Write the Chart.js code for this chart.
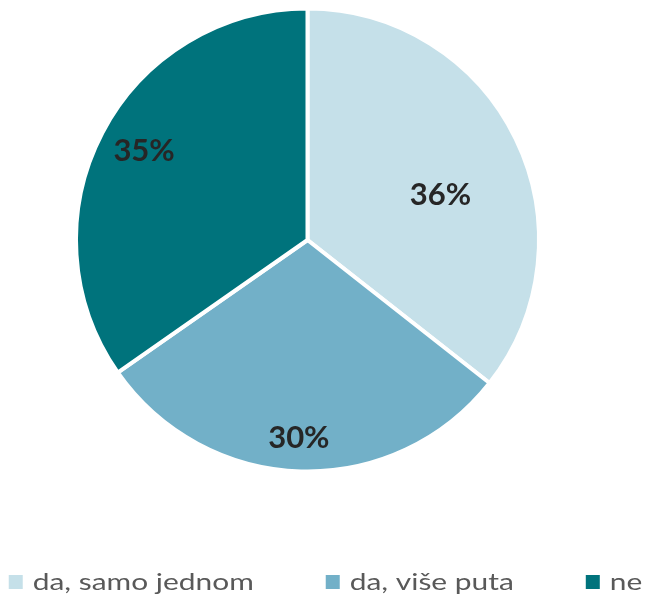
<!DOCTYPE html>
<html>
<head>
<meta charset="utf-8">
<script src="https://cdn.jsdelivr.net/npm/chart.js@4"></script>
<style>
  html, body { margin: 0; padding: 0; background: #ffffff; }
  #wrap { width: 651px; height: 597px; position: relative; }
</style>
</head>
<body>
<div id="wrap"><canvas id="c" width="651" height="597"></canvas></div>
<script>
const categories = ['da, samo jednom', 'da, više puta', 'ne'];
const shares = [35.6, 29.7, 34.7];
const sliceColors = ['#c5e0e9', '#72b0c8', '#00737c'];

// label placement relative to each slice (style, not data)
const labelPlacement = [
  { angleOffsetDeg: 6.8, radiusFactor: 0.613 },
  { angleOffsetDeg: 0.9, radiusFactor: 0.859 },
  { angleOffsetDeg: 1.3, radiusFactor: 0.813 }
];

const sliceLabels = {
  id: 'sliceLabels',
  afterDatasetsDraw(chart) {
    const ctx = chart.ctx;
    const meta = chart.getDatasetMeta(0);
    ctx.save();
    ctx.font = 'bold 31px Lato, "Open Sans", sans-serif';
    ctx.fillStyle = '#262626';
    ctx.textAlign = 'center';
    ctx.textBaseline = 'middle';
    meta.data.forEach((arc, i) => {
      const p = arc.getProps(['x', 'y', 'startAngle', 'endAngle', 'outerRadius'], true);
      const pl = labelPlacement[i];
      const mid = (p.startAngle + p.endAngle) / 2 + pl.angleOffsetDeg * Math.PI / 180;
      const r = (p.outerRadius - 2) * pl.radiusFactor;
      const x = p.x + Math.cos(mid) * r;
      const y = p.y + Math.sin(mid) * r;
      ctx.fillText(Math.round(shares[i]) + '%', x, y + 1);
    });
    ctx.restore();
  }
};

const bottomLegend = {
  id: 'bottomLegend',
  afterDraw(chart) {
    const ctx = chart.ctx;
    const labels = chart.data.labels;
    const colors = chart.data.datasets[0].backgroundColor;
    const box = 14, boxGap = 10, itemGap = 72;
    ctx.save();
    ctx.font = '24px Lato, "Open Sans", sans-serif';
    ctx.textBaseline = 'alphabetic';
    const first = ctx.measureText(labels[0]).width;
    const scaleX = 221 / first;
    const widths = labels.map(t => ctx.measureText(t).width * scaleX);
    const total = widths.reduce((a, w) => a + box + boxGap + w, 0) + itemGap * (labels.length - 1);
    let x = (chart.width - total) / 2;
    const baseline = 590;
    labels.forEach((t, i) => {
      ctx.fillStyle = colors[i];
      ctx.fillRect(x, 575, box, box);
      x += box + boxGap;
      ctx.fillStyle = '#595959';
      ctx.save();
      ctx.translate(x, baseline);
      ctx.scale(scaleX, 1);
      ctx.fillText(t, 0, 0);
      ctx.restore();
      x += widths[i] + itemGap;
    });
    ctx.restore();
  }
};

new Chart(document.getElementById('c'), {
  type: 'pie',
  data: {
    labels: categories,
    datasets: [{
      data: shares,
      backgroundColor: sliceColors,
      borderColor: '#ffffff',
      borderWidth: 4
    }]
  },
  options: {
    responsive: false,
    animation: false,
    radius: 231.5,
    layout: { padding: { left: 0, right: 36, top: 0, bottom: 117 } },
    plugins: {
      legend: { display: false },
      tooltip: { enabled: false }
    }
  },
  plugins: [sliceLabels, bottomLegend]
});
</script>
</body>
</html>
